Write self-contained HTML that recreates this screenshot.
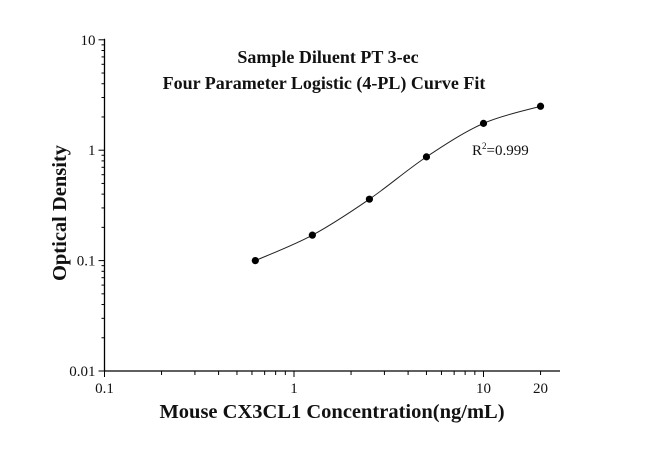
<!DOCTYPE html>
<html><head><meta charset="utf-8"><style>
body{margin:0;background:#fff}
svg text{font-family:"Liberation Serif",serif;fill:#111}
</style></head><body>
<svg id="chart" width="650" height="446" viewBox="0 0 650 446" xmlns="http://www.w3.org/2000/svg">
<g id="axes"></g>
<text x="328" y="63" font-size="18" font-weight="bold" text-anchor="middle">Sample Diluent PT 3-ec</text>
<text x="324" y="89" font-size="18" font-weight="bold" text-anchor="middle">Four Parameter Logistic (4-PL) Curve Fit</text>
<text x="472" y="155" font-size="15">R<tspan dy="-6" font-size="9">2</tspan><tspan dy="6">=0.999</tspan></text>
<text x="332" y="418" font-size="20.5" font-weight="bold" text-anchor="middle">Mouse CX3CL1 Concentration(ng/mL)</text>
<text transform="translate(66,213) rotate(-90)" font-size="20.5" font-weight="bold" text-anchor="middle">Optical Density</text>
<g id="marks"></g>
</svg>
<script>
const concentrations=[0.625,1.25,2.5,5,10,20];
const odValues=[0.1,0.17,0.36,0.87,1.75,2.5];
const xTickValues=[0.1,1,10,20];
const xTickLabels=["0.1","1","10","20"];
const yTickValues=[0.01,0.1,1,10];
const yTickLabels=["0.01","0.1","1","10"];
const NS="http://www.w3.org/2000/svg";
const X0=104.5,XD=189.5,Y0=371,YD=110.4;
function xs(v){return X0+XD*(Math.log10(v)+1);}
function ys(v){return Y0-YD*(Math.log10(v)+2);}
function mk(t,a,p){const e=document.createElementNS(NS,t);for(const k in a)e.setAttribute(k,a[k]);p.appendChild(e);return e;}
const ax=document.getElementById('axes');
let l=mk('line',{x1:X0,y1:Y0,x2:560,y2:Y0,stroke:'#000','stroke-width':1.3},ax);


l=mk('line',{x1:X0,y1:Y0,x2:X0,y2:ys(10)-1,stroke:'#000','stroke-width':1.3},ax);


for(let d=0.1;d<=10;d*=10){for(let m=1;m<10;m++){const v=d*m;if(v>20.5)break;const x=xs(v);
 mk('line',{x1:x,y1:Y0,x2:x,y2:Y0+(m==1?6:4),stroke:'#000','stroke-width':1},ax);}}
for(let d=0.01;d<10;d*=10){for(let m=1;m<10;m++){const y=ys(d*m);
 mk('line',{x1:X0,y1:y,x2:X0-(m==1?6:3),y2:y,stroke:'#000','stroke-width':1},ax);}}
mk('line',{x1:X0,y1:ys(10),x2:X0-6,y2:ys(10),stroke:'#000','stroke-width':1},ax);
xTickValues.forEach((v,i)=>{const t=mk('text',{x:xs(v),y:393,'font-size':15,'text-anchor':'middle'},ax);t.textContent=xTickLabels[i];
 
 });
yTickValues.forEach((v,i)=>{const t=mk('text',{x:X0-9,y:ys(v)+5,'font-size':15,'text-anchor':'end'},ax);t.textContent=yTickLabels[i];
 
 });
const mg=document.getElementById('marks');
const P=concentrations.map((c,i)=>[xs(c),ys(odValues[i])]);
let d='M'+P[0][0]+','+P[0][1];
for(let i=0;i<P.length-1;i++){const p0=P[Math.max(0,i-1)],p1=P[i],p2=P[i+1],p3=P[Math.min(P.length-1,i+2)];
 const c1=[p1[0]+(p2[0]-p0[0])/6,p1[1]+(p2[1]-p0[1])/6],c2=[p2[0]-(p3[0]-p1[0])/6,p2[1]-(p3[1]-p1[1])/6];
 d+=' C'+c1+' '+c2+' '+p2;}
const path=mk('path',{d:d,fill:'none',stroke:'#222','stroke-width':1},mg);


P.forEach(p=>{const c=mk('circle',{cx:p[0],cy:p[1],r:3.6,fill:'#000'},mg);
 
 });
</script>
</body></html>
